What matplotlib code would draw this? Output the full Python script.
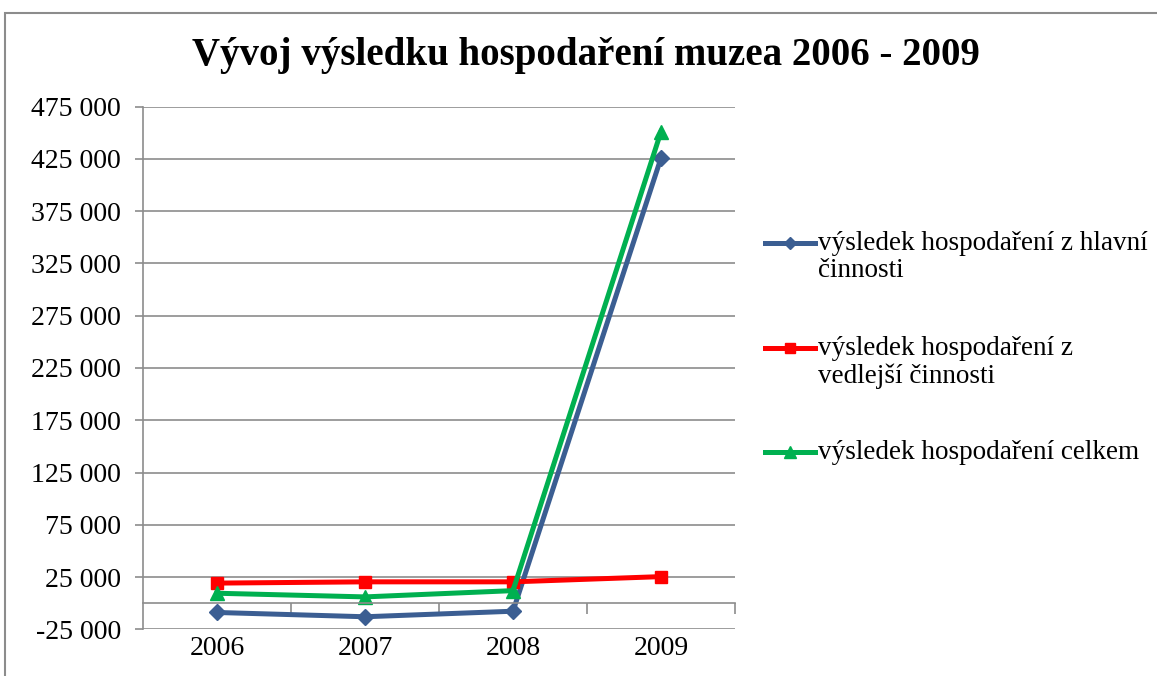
import matplotlib.pyplot as plt
from matplotlib.patches import Rectangle
from matplotlib.lines import Line2D
from matplotlib.ticker import FuncFormatter, FixedLocator
from matplotlib.transforms import blended_transform_factory

plt.rcParams['font.family'] = ['Liberation Serif', 'DejaVu Serif']

# data
years = ['2006', '2007', '2008', '2009']
hlavni = [-8900, -13000, -7700, 425900]
vedlejsi = [19200, 20400, 20400, 25400]
celkem = [9500, 6000, 12000, 451100]
labels = ['výsledek hospodaření z hlavní\nčinnosti',
          'výsledek hospodaření z\nvedlejší činnosti',
          'výsledek hospodaření celkem']
yticks = list(range(-25000, 475001, 50000))

W, H = 1157, 676
fig = plt.figure(figsize=(W / 100, H / 100), dpi=100)
ax = fig.add_axes([143/W, 1 - 629.3/H, 592/W, 522.6/H])

# outer chart frame
fig.patches.append(Rectangle((5/W, -0.1), 1.2, 1.1 - 13/H, transform=fig.transFigure,
                             fill=False, edgecolor='#8c8c8c', linewidth=1.5))

styles = [dict(color='#3B5E92', marker='D', ms=8),
          dict(color='#FF0000', marker='s', ms=9),
          dict(color='#00B050', marker='^', ms=10)]

x = range(len(years))
for vals, st in zip([hlavni, vedlejsi, celkem], styles):
    ax.plot(x, vals, lw=3.6, **st)

ax.set_xlim(-0.5, 3.5)
ax.set_ylim(-25000, 475000)
ax.set_yticks(yticks)
ax.yaxis.set_major_formatter(FuncFormatter(lambda v, p: f'{int(v):,}'.replace(',', ' ')))
ax.tick_params(axis='y', labelsize=20, length=6, width=1.2, color='#8c8c8c', pad=10)
ax.grid(axis='y', color='#8c8c8c', lw=1.2)
ax.set_axisbelow(True)

for s in ['top', 'right']:
    ax.spines[s].set_visible(False)
ax.spines['left'].set_color('#8c8c8c')
ax.spines['left'].set_linewidth(1.2)
ax.spines['bottom'].set_position(('data', 0))
ax.spines['bottom'].set_color('#8c8c8c')
ax.spines['bottom'].set_linewidth(1.2)
ax.xaxis.set_major_locator(FixedLocator([0.5, 1.5, 2.5, 3.5]))
ax.tick_params(axis='x', labelbottom=False, length=8, width=1.2, color='#8c8c8c')

trans = blended_transform_factory(ax.transData, ax.transAxes)
for i, yr in enumerate(years):
    ax.text(i, -0.012, yr, transform=trans, ha='center', va='top', fontsize=20)

fig.text(586/W, 1 - 55/H, 'Vývoj výsledku hospodaření muzea 2006 - 2009',
         ha='center', va='center', fontsize=28, fontweight='bold')

# legend: handle sits on the first line of each label, as in Excel
for lab, st, ly in zip(labels, styles, [243, 348, 452]):
    yf = 1 - ly / H
    fig.lines.append(Line2D([765/W, 815/W], [yf, yf], transform=fig.transFigure,
                            color=st['color'], lw=3.6))
    fig.lines.append(Line2D([790/W], [yf], transform=fig.transFigure,
                            color=st['color'], marker=st['marker'], ms=st['ms'] * 0.8))
    fig.text(818/W, 1 - (ly - 12)/H, lab, ha='left', va='top', fontsize=19.5,
             linespacing=1.12)

fig.savefig('out.png', dpi=100)
